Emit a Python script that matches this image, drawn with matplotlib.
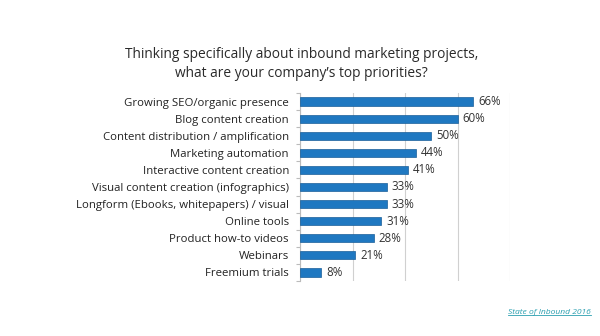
import matplotlib.pyplot as plt

# Survey answers, top to bottom
priorities = [
    'Growing SEO/organic presence',
    'Blog content creation',
    'Content distribution / amplification',
    'Marketing automation',
    'Interactive content creation',
    'Visual content creation (infographics)',
    'Longform (Ebooks, whitepapers) / visual',
    'Online tools',
    'Product how-to videos',
    'Webinars',
    'Freemium trials',
]
shares = [66, 60, 50, 44, 41, 33, 33, 31, 28, 21, 8]

plt.rcParams['font.family'] = ['Open Sans', 'DejaVu Sans']

fig = plt.figure(figsize=(6, 3.36), dpi=100)
ax = fig.add_axes([300 / 600, 1 - 281 / 336, 210 / 600, (281 - 93) / 336])

ypos = list(range(len(priorities)))
ax.barh(ypos, shares, height=0.48, color='#1f78c1', edgecolor='#1a5f99', linewidth=0.5, zorder=3)
for y, v in zip(ypos, shares):
    ax.text(v + 2.0, y, f'{v}%', va='center', ha='left', fontsize=8.3, color='#333333')

ax.set_yticks(ypos)
ax.set_yticklabels(priorities, fontsize=8.2, color='#222222')
ax.set_ylim(len(priorities) - 0.5, -0.5)
ax.set_xlim(0, 80)
ax.set_xticks([0, 20, 40, 60, 80])
ax.tick_params(axis='x', length=0, labelbottom=False)
ax.tick_params(axis='y', length=0, pad=8)
# minor ticks between categories on the left axis
ax.set_yticks([i + 0.5 for i in range(-1, len(priorities))], minor=True)
ax.tick_params(axis='y', which='minor', length=3, color='#bbbbbb', width=0.8)
ax.grid(axis='x', color='#d0d0d0', linewidth=0.8, zorder=0)
for side in ['top', 'right', 'bottom']:
    ax.spines[side].set_visible(False)
ax.spines['left'].set_color('#bbbbbb')

fig.text(0.502, 1 - 64 / 336, 'Thinking specifically about inbound marketing projects,\nwhat are your company\u2019s top priorities?',
         ha='center', va='center', fontsize=9.9, color='#2a2a2a', linespacing=1.3, weight='medium')

# source link, underlined across the text width
src = fig.text(591 / 600, 1 - 313 / 336, 'State of Inbound 2016', ha='right', va='center',
               fontsize=6.1, color='#2a9fb0', style='italic')
fig.canvas.draw()
bb = src.get_window_extent().transformed(fig.transFigure.inverted())
fig.add_artist(plt.Line2D([bb.x0, bb.x1], [bb.y0 + 0.004, bb.y0 + 0.004], color='#2a9fb0', linewidth=0.6))

fig.savefig('out.png', dpi=100, facecolor='white')
